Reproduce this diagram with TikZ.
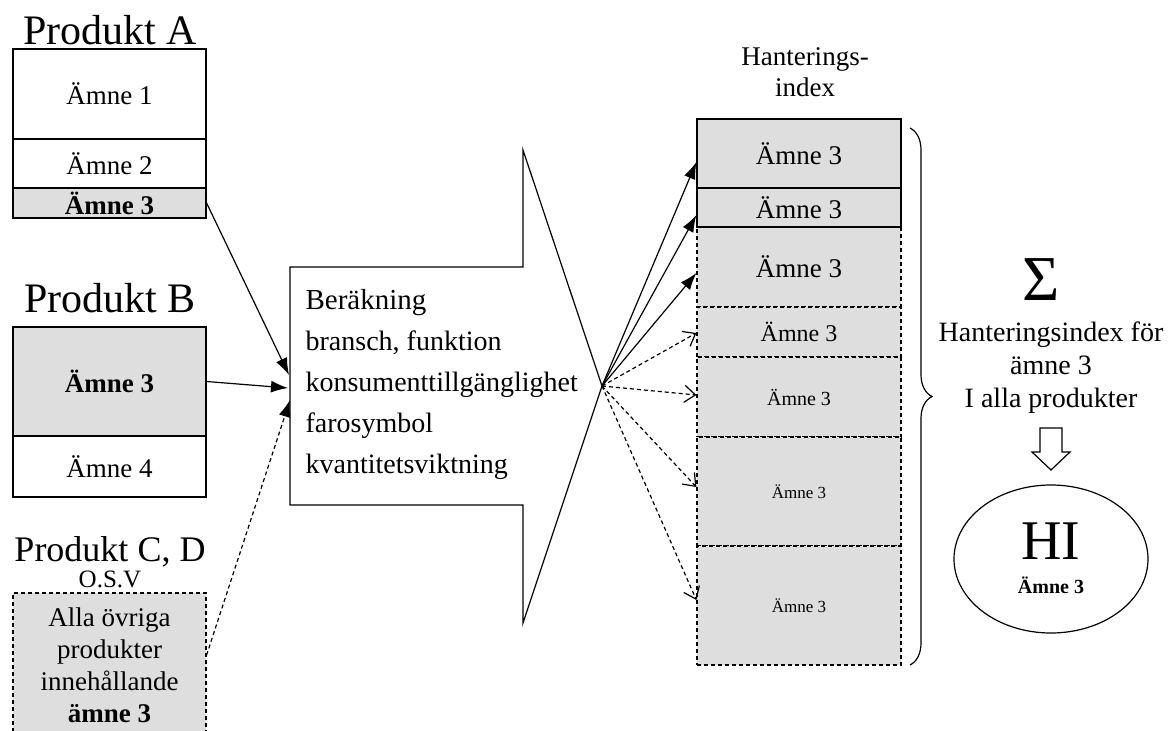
\documentclass[tikz,border=0pt]{standalone}
\usepackage{fontspec}
\setmainfont{Liberation Serif}
\usepackage{tikz}
\usepackage{xcolor}
\usetikzlibrary{arrows.meta,shapes.geometric,decorations.pathreplacing}
\definecolor{boxgray}{gray}{0.87}

\begin{document}
\begin{tikzpicture}[x=1pt,y=-1pt,line width=1.2pt,
    amne/.style={draw, fill=white, inner sep=0pt, minimum width=193, font=\fontsize{27}{32}\selectfont},
    prodtitle/.style={inner sep=0pt, font=\fontsize{42}{46}\selectfont},
    hix/.style={draw, fill=boxgray, inner sep=0pt, minimum width=204},
    dashbox/.style={dash pattern=on 4pt off 3pt},
    inarrow/.style={-{Latex[length=17pt,width=12pt]}},
    outarrow/.style={-{Latex[length=17pt,width=12pt]}},
    maybearrow/.style={dash pattern=on 4pt off 3pt, -{Straight Barb[length=11pt,width=17pt]}}]
                \useasboundingbox (0,0) rectangle (1168,731);
                \clip (0,0) rectangle (1168,731);
                \node[prodtitle] (tA) at (110,30) {Produkt A};
                \node[amne, minimum height=90] (a1) at (109.5,94) {Ämne 1};
                \node[amne, minimum height=49] (a2) at (109.5,163.5) {Ämne 2};
                \node[amne, minimum height=30, fill=boxgray, font=\fontsize{27}{32}\selectfont\bfseries] (a3) at (109.5,203) {Ämne 3};
                \node[prodtitle] (tB) at (110,298) {Produkt B};
                \node[amne, minimum height=109, fill=boxgray, font=\fontsize{27}{32}\selectfont\bfseries] (b1) at (109.5,381.5) {Ämne 3};
                \node[amne, minimum height=61] (b2) at (109.5,466.5) {Ämne 4};
                \node[prodtitle, font=\fontsize{36}{40}\selectfont] (tC) at (110,552) {Produkt C, D};
                \node[inner sep=0pt, font=\fontsize{25}{28}\selectfont] (osv) at (110,579) {O.S.V};
                \node[amne, dashbox, minimum height=144, fill=boxgray, align=center] (c1) at (109.5,665) {Alla övriga\\produkter\\innehållande\\\textbf{ämne 3}};
                \draw (290,267) -- (523,267) -- (523,150) -- (602,386) -- (523,623) -- (523,505) -- (290,505) -- cycle;
                \coordinate (fan) at (602,386);
                \coordinate (inA) at (289,375);
                \coordinate (inB) at (288,388);
                \coordinate (inC) at (290,400);
                \node[anchor=base west, inner sep=0pt, font=\fontsize{29}{32}\selectfont] (calc) at (305,309) {Beräkning};
                \foreach \t [count=\i] in {{bransch, funktion}, konsumenttillgänglighet, farosymbol, kvantitetsviktning}
                    \node[anchor=base west, inner sep=0pt, font=\fontsize{28}{32}\selectfont] (calc\i) at (305,309+41*\i) {\t};
                \draw[inarrow] (a3.east) -- (inA);
                \draw[inarrow] (b1.east) -- (inB);
                \draw[inarrow, dashbox] ([yshift=10pt]c1.east) -- (inC);
                \node[inner sep=0pt, align=center, font=\fontsize{27}{31}\selectfont] (hlabel) at (805,72) {Hanterings-\\index};
                \node[hix, dashbox, minimum height=80, font=\fontsize{27}{32}\selectfont] (r3) at (799,267) {Ämne 3};
                \node[hix, dashbox, minimum height=50, font=\fontsize{24}{28}\selectfont] (r4) at (799,332) {Ämne 3};
                \node[hix, dashbox, minimum height=80, font=\fontsize{20}{24}\selectfont] (r5) at (799,397) {Ämne 3};
                \node[hix, dashbox, minimum height=109, font=\fontsize{17}{20}\selectfont] (r6) at (799,491.5) {Ämne 3};
                \node[hix, dashbox, minimum height=119, font=\fontsize{17}{20}\selectfont] (r7) at (799,605.5) {Ämne 3};
                \node[hix, minimum height=69, font=\fontsize{27}{32}\selectfont] (r1) at (799,153.5) {Ämne 3};
                \node[hix, minimum height=39, font=\fontsize{27}{32}\selectfont] (r2) at (799,207.5) {Ämne 3};
                \draw[outarrow] (fan) -- ([yshift=-8.5pt]r1.west);
                \draw[outarrow] (fan) -- ([yshift=-7.5pt]r2.west);
                \draw[outarrow] (fan) -- ([yshift=-6pt]r3.west);
                \draw[maybearrow] (fan) -- ([yshift=-1pt]r4.west);
                \draw[maybearrow] (fan) -- ([yshift=2pt]r5.west);
                \draw[maybearrow] (fan) -- ([yshift=4.5pt]r6.west);
                \draw[maybearrow] (fan) -- ([yshift=5.5pt]r7.west);
                \draw[decorate, decoration={brace, amplitude=22pt}] (910,128) -- (910,665);
                \node[inner sep=0pt, font=\fontsize{64}{66}\selectfont] (sigma) at (1041,280) {Σ};
                \node[inner sep=0pt, align=center, font=\fontsize{28}{33}\selectfont] (hisum) at (1051,368) {Hanteringsindex för\\ämne 3\\I alla produkter};
                \draw (1040,428) -- (1062,428) -- (1062,452) -- (1070,452) -- (1051,470) -- (1032,452) -- (1040,452) -- cycle;
                \node[draw, ellipse, inner sep=0pt, minimum width=194, minimum height=148] (hi) at (1051,559) {};
                \node[inner sep=0pt, font=\fontsize{56}{60}\selectfont] (hitext) at (1051,541) {HI};
                \node[inner sep=0pt, font=\fontsize{20}{24}\selectfont\bfseries] (hisub) at (1051,585) {Ämne 3};
            \end{tikzpicture}
\end{document}
